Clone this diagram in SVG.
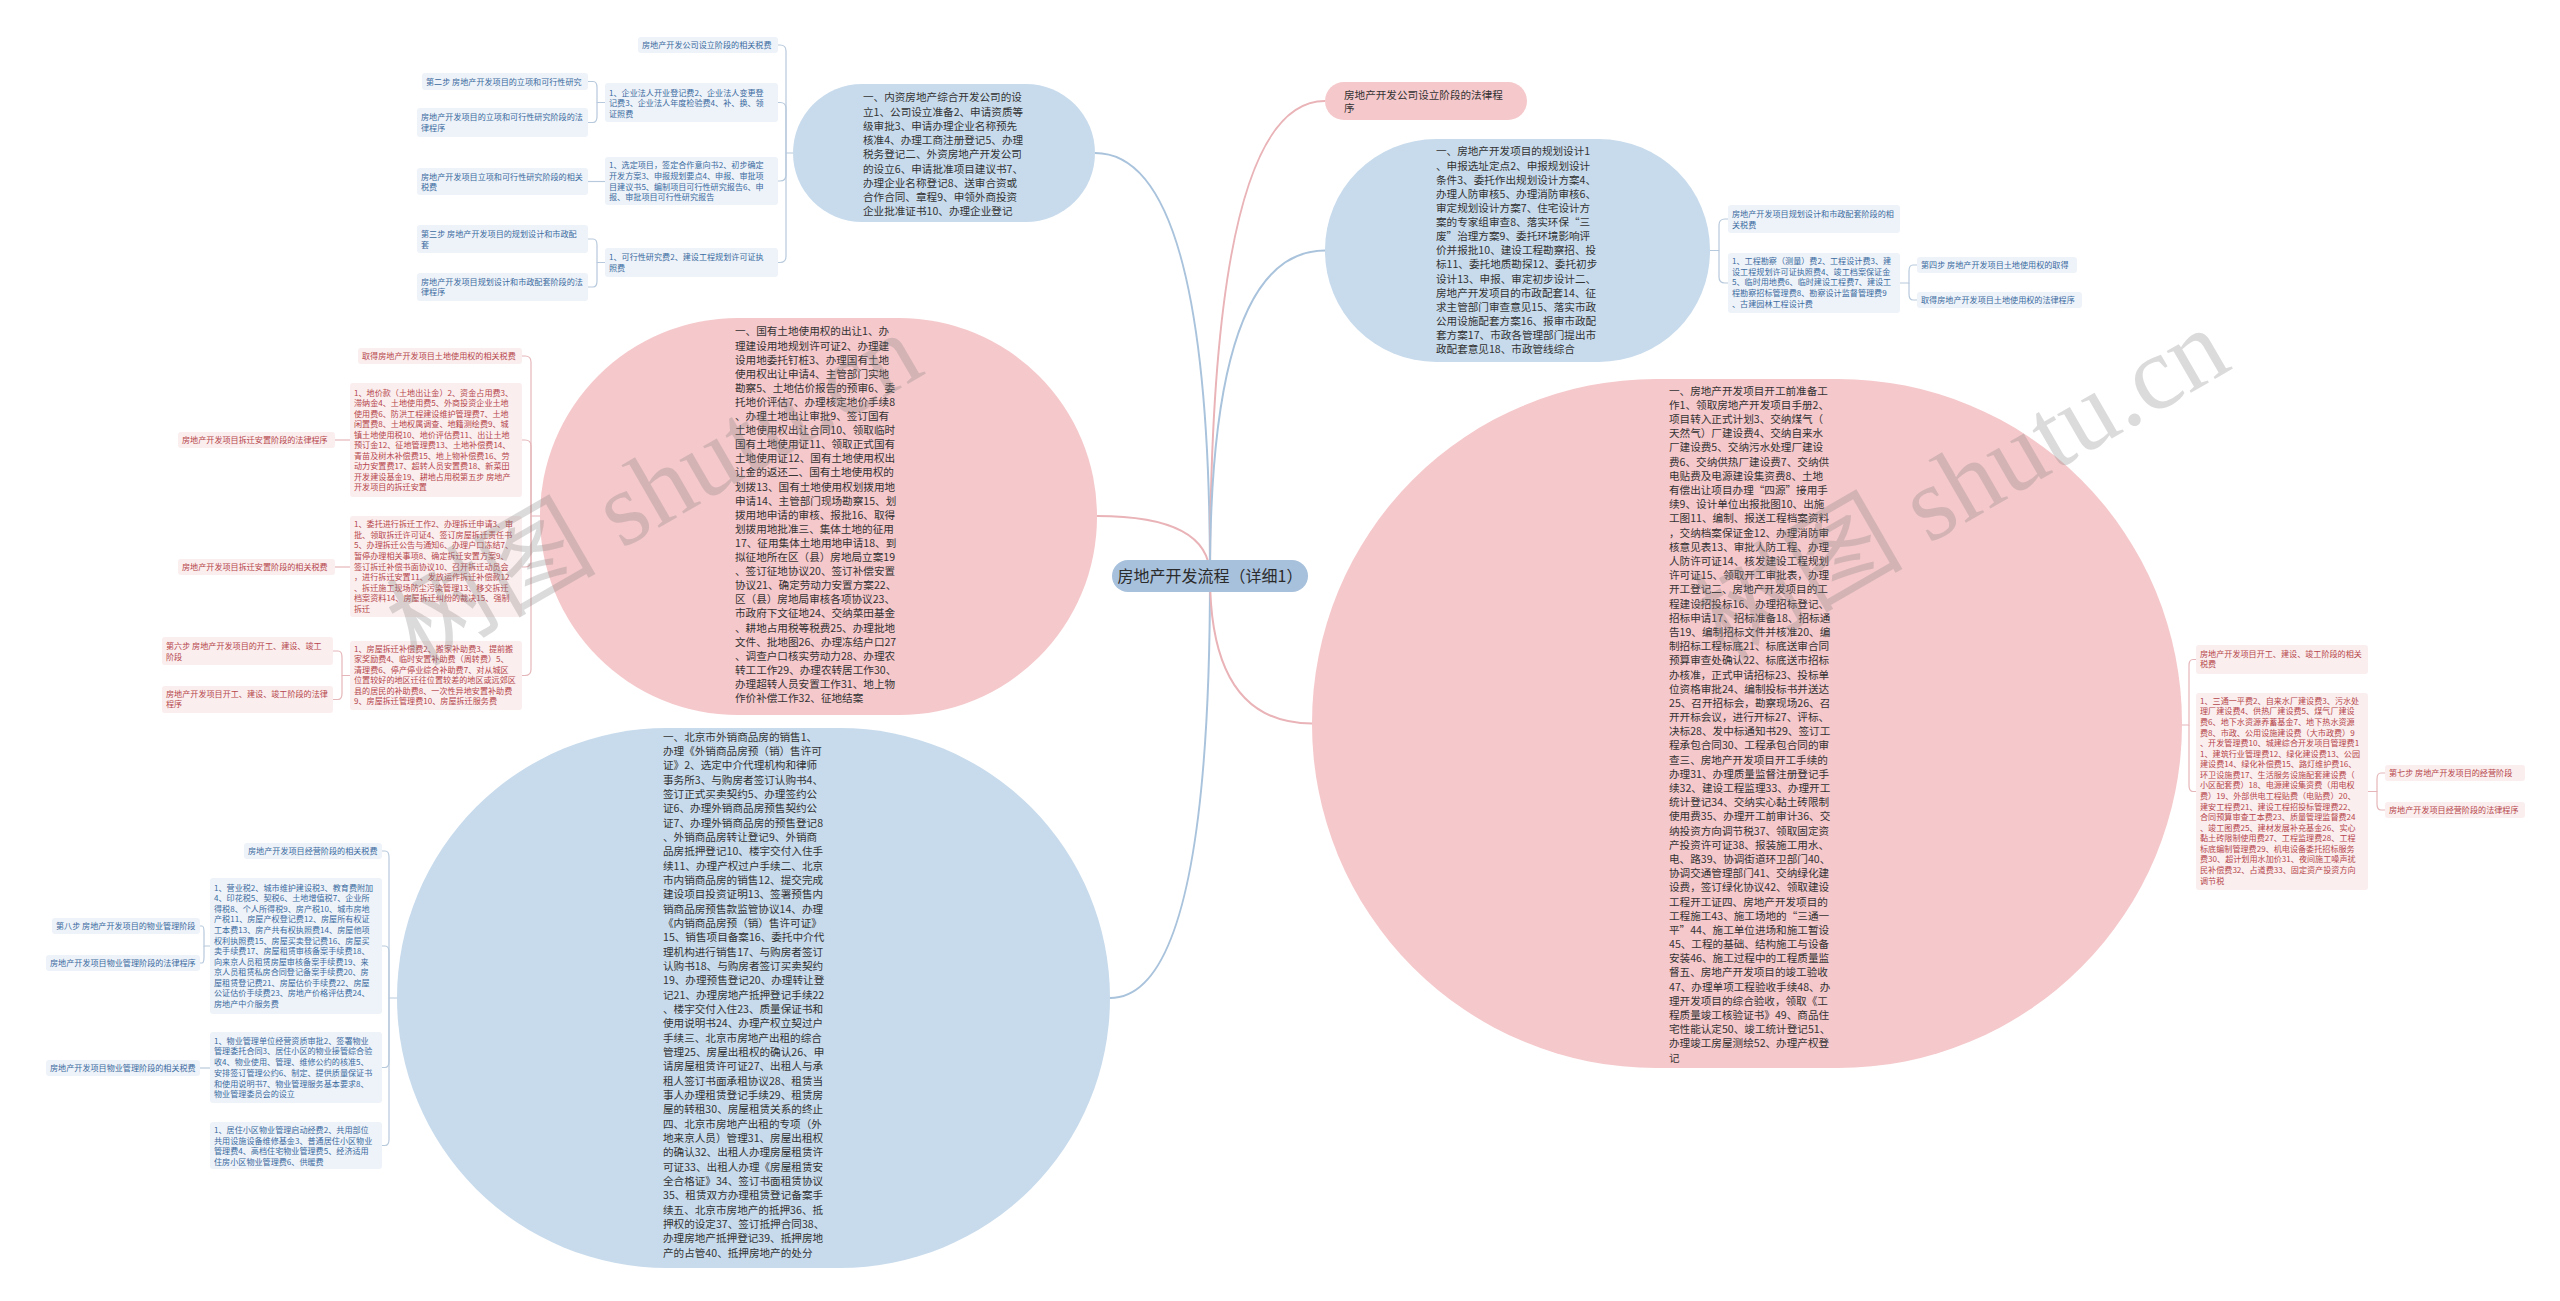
<svg xmlns="http://www.w3.org/2000/svg" width="2560" height="1301" viewBox="0 0 2560 1301">
<defs>
<style>
text{font-family:"Noto Sans CJK SC","Noto Sans",sans-serif;}
.big{font-size:10.6px;fill:#333333;}
.root{font-size:16px;fill:#2b2b2b;}
.sb{font-size:8.1px;fill:#3a6aa0;}
.sp{font-size:8.1px;fill:#b5464c;}
.eb{fill:#c8dbec;}
.ep{fill:#f5c8cb;}
.bb{fill:#eef3f9;}
.bp{fill:#fbeeee;}
.cb{fill:none;stroke:#a9c3dc;stroke-width:2;}
.cp{fill:none;stroke:#e9b3b7;stroke-width:2;}
.lb{fill:none;stroke:#b7c9dc;stroke-width:1.2;}
.lp{fill:none;stroke:#e5b6b9;stroke-width:1.2;}
.wm{font-family:"Liberation Serif","Noto Sans CJK SC",serif;font-size:105px;fill:#7f7f7f;fill-opacity:0.28;}
</style>
</defs>
<rect x="0" y="0" width="2560" height="1301" fill="#ffffff"/>

<g id="connectors">
<path class="cb" d="M1210,576 Q1210,153 1095,153"/>
<path class="cp" d="M1210,576 Q1210,516 1097,516"/>
<path class="cb" d="M1210,576 Q1210,998 1110,998"/>
<path class="cp" d="M1210,576 Q1210,101 1325,101"/>
<path class="cb" d="M1210,576 Q1210,250.5 1325,250.5"/>
<path class="cp" d="M1210,576 Q1210,723.5 1312,723.5"/>

<path class="lb" d="M793,153 H786 V51 Q786,45 780,45 H778"/>
<path class="lb" d="M786,153 V108.5 Q786,102.5 780,102.5 H778"/>
<path class="lb" d="M786,153 V175 Q786,181 780,181 H778"/>
<path class="lb" d="M786,153 V256.5 Q786,262.5 780,262.5 H778"/>
<path class="lb" d="M605,102.5 H597 V87.5 Q597,81.5 593,81.5 H588"/>
<path class="lb" d="M597,102.5 V116.5 Q597,122.5 593,122.5 H588"/>
<path class="lb" d="M605,181.5 H588"/>
<path class="lb" d="M605,262.5 H597 V245 Q597,239 593,239 H588"/>
<path class="lb" d="M597,262.5 V281 Q597,287 593,287 H588"/>

<path class="lp" d="M540,516 H531 V362 Q531,356 525,356 H522"/>
<path class="lp" d="M531,516 V446 Q531,440 525,440 H522"/>
<path class="lp" d="M531,516 V561 Q531,567 525,567 H522"/>
<path class="lp" d="M531,516 V669.5 Q531,675.5 525,675.5 H522"/>
<path class="lp" d="M350,440 H335"/>
<path class="lp" d="M350,567 H335"/>
<path class="lp" d="M350,675.5 H342 V657 Q342,651 338,651 H333"/>
<path class="lp" d="M342,675.5 V693.5 Q342,699.5 338,699.5 H333"/>

<path class="lb" d="M397,998 H389 V857 Q389,851 385,851 H382"/>
<path class="lb" d="M389,998 V952 Q389,946 385,946 H382"/>
<path class="lb" d="M389,998 V1061.5 Q389,1067.5 385,1067.5 H382"/>
<path class="lb" d="M389,998 V1139.5 Q389,1145.5 385,1145.5 H382"/>
<path class="lb" d="M210,946 H204 V932 Q204,926 202,926 H200"/>
<path class="lb" d="M204,946 V957 Q204,963 202,963 H200"/>
<path class="lb" d="M210,1068 H200"/>

<path class="lb" d="M1710,250.5 H1719 V225 Q1719,219 1725,219 H1728"/>
<path class="lb" d="M1719,250.5 V277 Q1719,283 1725,283 H1728"/>
<path class="lb" d="M1900,283 H1909 V271 Q1909,265 1913,265 H1917"/>
<path class="lb" d="M1909,283 V294 Q1909,300 1913,300 H1917"/>

<path class="lp" d="M2182,725 H2189 V665.5 Q2189,659.5 2193,659.5 H2196"/>
<path class="lp" d="M2189,725 V785.5 Q2189,791.5 2193,791.5 H2196"/>
<path class="lp" d="M2368,791.5 H2377 V779 Q2377,773 2381,773 H2385"/>
<path class="lp" d="M2377,791.5 V804 Q2377,810 2381,810 H2385"/>
</g>

<g id="node-root">
<rect x="1112" y="560" width="196" height="32" rx="16" fill="#a7c1dc"/>
<text class="root" x="1210" y="582" text-anchor="middle">房地产开发流程（详细1）</text>
</g>

<g id="node-company-setup">
<rect class="eb" x="793" y="84" width="302" height="138" rx="69"/>
<text class="big" x="863" y="101.4"><tspan x="863" dy="0">一、内资房地产综合开发公司的设</tspan><tspan x="863" dy="14.25">立1、公司设立准备2、申请资质等</tspan><tspan x="863" dy="14.25">级审批3、申请办理企业名称预先</tspan><tspan x="863" dy="14.25">核准4、办理工商注册登记5、办理</tspan><tspan x="863" dy="14.25">税务登记二、外资房地产开发公司</tspan><tspan x="863" dy="14.25">的设立6、申请批准项目建议书7、</tspan><tspan x="863" dy="14.25">办理企业名称登记8、送审合资或</tspan><tspan x="863" dy="14.25">合作合同、章程9、申领外商投资</tspan><tspan x="863" dy="14.25">企业批准证书10、办理企业登记</tspan></text>
</g>

<g id="node-tl-1"><rect class="bb" x="638" y="37" width="140" height="16" rx="3"/><text class="sb" x="642" y="48.3">房地产开发公司设立阶段的相关税费</text></g>
<g id="node-tl-2"><rect class="bb" x="605" y="83" width="173" height="39" rx="3"/><text class="sb" x="609" y="95.6"><tspan x="609" dy="0">1、企业法人开业登记费2、企业法人变更登</tspan><tspan x="609" dy="10.8">记费3、企业法人年度检验费4、补、换、领</tspan><tspan x="609" dy="10.8">证照费</tspan></text></g>
<g id="node-tl-3"><rect class="bb" x="422" y="73" width="166" height="17" rx="3"/><text class="sb" x="426" y="85">第二步 房地产开发项目的立项和可行性研究</text></g>
<g id="node-tl-4"><rect class="bb" x="417" y="108" width="171" height="29" rx="3"/><text class="sb" x="421" y="120"><tspan x="421" dy="0">房地产开发项目的立项和可行性研究阶段的法</tspan><tspan x="421" dy="11">律程序</tspan></text></g>
<g id="node-tl-5"><rect class="bb" x="605" y="157" width="173" height="48" rx="3"/><text class="sb" x="609" y="167.9"><tspan x="609" dy="0">1、选定项目，签定合作意向书2、初步确定</tspan><tspan x="609" dy="10.8">开发方案3、申报规划要点4、申报、审批项</tspan><tspan x="609" dy="10.8">目建议书5、编制项目可行性研究报告6、申</tspan><tspan x="609" dy="10.8">报、审批项目可行性研究报告</tspan></text></g>
<g id="node-tl-6"><rect class="bb" x="417" y="168" width="171" height="27" rx="3"/><text class="sb" x="421" y="179.6"><tspan x="421" dy="0">房地产开发项目立项和可行性研究阶段的相关</tspan><tspan x="421" dy="10.7">税费</tspan></text></g>
<g id="node-tl-7"><rect class="bb" x="605" y="248" width="173" height="29" rx="3"/><text class="sb" x="609" y="260.2"><tspan x="609" dy="0">1、可行性研究费2、建设工程规划许可证执</tspan><tspan x="609" dy="11">照费</tspan></text></g>
<g id="node-tl-8"><rect class="bb" x="417" y="225" width="171" height="28" rx="3"/><text class="sb" x="421" y="236.9"><tspan x="421" dy="0">第三步 房地产开发项目的规划设计和市政配</tspan><tspan x="421" dy="11">套</tspan></text></g>
<g id="node-tl-9"><rect class="bb" x="417" y="273" width="171" height="28" rx="3"/><text class="sb" x="421" y="284.6"><tspan x="421" dy="0">房地产开发项目规划设计和市政配套阶段的法</tspan><tspan x="421" dy="10.7">律程序</tspan></text></g>

<g id="node-land">
<rect class="ep" x="540" y="318" width="557" height="397" rx="198"/>
<text class="big" x="735" y="335.4"><tspan x="735" dy="0">一、国有土地使用权的出让1、办</tspan><tspan x="735" dy="14.1">理建设用地规划许可证2、办理建</tspan><tspan x="735" dy="14.1">设用地委托钉桩3、办理国有土地</tspan><tspan x="735" dy="14.1">使用权出让申请4、主管部门实地</tspan><tspan x="735" dy="14.1">勘察5、土地估价报告的预审6、委</tspan><tspan x="735" dy="14.1">托地价评估7、办理核定地价手续8</tspan><tspan x="735" dy="14.1">、办理土地出让审批9、签订国有</tspan><tspan x="735" dy="14.1">土地使用权出让合同10、领取临时</tspan><tspan x="735" dy="14.1">国有土地使用证11、领取正式国有</tspan><tspan x="735" dy="14.1">土地使用证12、国有土地使用权出</tspan><tspan x="735" dy="14.1">让金的返还二、国有土地使用权的</tspan><tspan x="735" dy="14.1">划拨13、国有土地使用权划拨用地</tspan><tspan x="735" dy="14.1">申请14、主管部门现场勘察15、划</tspan><tspan x="735" dy="14.1">拨用地申请的审核、报批16、取得</tspan><tspan x="735" dy="14.1">划拨用地批准三、集体土地的征用</tspan><tspan x="735" dy="14.1">17、征用集体土地用地申请18、到</tspan><tspan x="735" dy="14.1">拟征地所在区（县）房地局立案19</tspan><tspan x="735" dy="14.1">、签订征地协议20、签订补偿安置</tspan><tspan x="735" dy="14.1">协议21、确定劳动力安置方案22、</tspan><tspan x="735" dy="14.1">区（县）房地局审核各项协议23、</tspan><tspan x="735" dy="14.1">市政府下文征地24、交纳菜田基金</tspan><tspan x="735" dy="14.1">、耕地占用税等税费25、办理批地</tspan><tspan x="735" dy="14.1">文件、批地图26、办理冻结户口27</tspan><tspan x="735" dy="14.1">、调查户口核实劳动力28、办理农</tspan><tspan x="735" dy="14.1">转工工作29、办理农转居工作30、</tspan><tspan x="735" dy="14.1">办理超转人员安置工作31、地上物</tspan><tspan x="735" dy="14.1">作价补偿工作32、征地结案</tspan></text>
</g>

<g id="node-ml-1"><rect class="bp" x="358" y="348" width="164" height="16" rx="3"/><text class="sp" x="362" y="358.9">取得房地产开发项目土地使用权的相关税费</text></g>
<g id="node-ml-2"><rect class="bp" x="350" y="383" width="172" height="114" rx="3"/><text class="sp" x="354" y="395.6"><tspan x="354" dy="0">1、地价款（土地出让金）2、资金占用费3、</tspan><tspan x="354" dy="10.5">滞纳金4、土地使用费5、外商投资企业土地</tspan><tspan x="354" dy="10.5">使用费6、防洪工程建设维护管理费7、土地</tspan><tspan x="354" dy="10.5">闲置费8、土地权属调查、地籍测绘费9、城</tspan><tspan x="354" dy="10.5">镇土地使用税10、地价评估费11、出让土地</tspan><tspan x="354" dy="10.5">预订金12、征地管理费13、土地补偿费14、</tspan><tspan x="354" dy="10.5">青苗及树木补偿费15、地上物补偿费16、劳</tspan><tspan x="354" dy="10.5">动力安置费17、超转人员安置费18、新菜田</tspan><tspan x="354" dy="10.5">开发建设基金19、耕地占用税第五步 房地产</tspan><tspan x="354" dy="10.5">开发项目的拆迁安置</tspan></text></g>
<g id="node-ml-3"><rect class="bp" x="178" y="432" width="157" height="16" rx="3"/><text class="sp" x="182" y="443">房地产开发项目拆迁安置阶段的法律程序</text></g>
<g id="node-ml-4"><rect class="bp" x="350" y="516" width="172" height="101" rx="3"/><text class="sp" x="354" y="527.2"><tspan x="354" dy="0">1、委托进行拆迁工作2、办理拆迁申请3、审</tspan><tspan x="354" dy="10.6">批、领取拆迁许可证4、签订房屋拆迁责任书</tspan><tspan x="354" dy="10.6">5、办理拆迁公告与通知6、办理户口冻结7、</tspan><tspan x="354" dy="10.6">暂停办理相关事项8、确定拆迁安置方案9、</tspan><tspan x="354" dy="10.6">签订拆迁补偿书面协议10、召开拆迁动员会</tspan><tspan x="354" dy="10.6">，进行拆迁安置11、发放运作拆迁补偿款12</tspan><tspan x="354" dy="10.6">、拆迁施工现场防尘污染管理13、移交拆迁</tspan><tspan x="354" dy="10.6">档案资料14、房屋拆迁纠纷的裁决15、强制</tspan><tspan x="354" dy="10.6">拆迁</tspan></text></g>
<g id="node-ml-5"><rect class="bp" x="178" y="559" width="157" height="16" rx="3"/><text class="sp" x="182" y="570.2">房地产开发项目拆迁安置阶段的相关税费</text></g>
<g id="node-ml-6"><rect class="bp" x="350" y="641" width="172" height="69" rx="3"/><text class="sp" x="354" y="651.9"><tspan x="354" dy="0">1、房屋拆迁补偿费2、搬家补助费3、提前搬</tspan><tspan x="354" dy="10.4">家奖励费4、临时安置补助费（周转费）5、</tspan><tspan x="354" dy="10.4">清理费6、停产停业综合补助费7、对从城区</tspan><tspan x="354" dy="10.4">位置较好的地区迁往位置较差的地区或远郊区</tspan><tspan x="354" dy="10.4">县的居民的补助费8、一次性异地安置补助费</tspan><tspan x="354" dy="10.4">9、房屋拆迁管理费10、房屋拆迁服务费</tspan></text></g>
<g id="node-ml-7"><rect class="bp" x="162" y="637" width="171" height="28" rx="3"/><text class="sp" x="166" y="648.9"><tspan x="166" dy="0">第六步 房地产开发项目的开工、建设、竣工</tspan><tspan x="166" dy="10.7">阶段</tspan></text></g>
<g id="node-ml-8"><rect class="bp" x="162" y="686" width="171" height="27" rx="3"/><text class="sp" x="166" y="696.9"><tspan x="166" dy="0">房地产开发项目开工、建设、竣工阶段的法律</tspan><tspan x="166" dy="10">程序</tspan></text></g>

<g id="node-sales">
<rect class="eb" x="397" y="728" width="713" height="540" rx="270"/>
<text class="big" x="663" y="740.7"><tspan x="663" dy="0">一、北京市外销商品房的销售1、</tspan><tspan x="663" dy="14.33">办理《外销商品房预（销）售许可</tspan><tspan x="663" dy="14.33">证》2、选定中介代理机构和律师</tspan><tspan x="663" dy="14.33">事务所3、与购房者签订认购书4、</tspan><tspan x="663" dy="14.33">签订正式买卖契约5、办理签约公</tspan><tspan x="663" dy="14.33">证6、办理外销商品房预售契约公</tspan><tspan x="663" dy="14.33">证7、办理外销商品房的预售登记8</tspan><tspan x="663" dy="14.33">、外销商品房转让登记9、外销商</tspan><tspan x="663" dy="14.33">品房抵押登记10、楼宇交付入住手</tspan><tspan x="663" dy="14.33">续11、办理产权过户手续二、北京</tspan><tspan x="663" dy="14.33">市内销商品房的销售12、提交完成</tspan><tspan x="663" dy="14.33">建设项目投资证明13、签署预售内</tspan><tspan x="663" dy="14.33">销商品房预售款监管协议14、办理</tspan><tspan x="663" dy="14.33">《内销商品房预（销）售许可证》</tspan><tspan x="663" dy="14.33">15、销售项目备案16、委托中介代</tspan><tspan x="663" dy="14.33">理机构进行销售17、与购房者签订</tspan><tspan x="663" dy="14.33">认购书18、与购房者签订买卖契约</tspan><tspan x="663" dy="14.33">19、办理预售登记20、办理转让登</tspan><tspan x="663" dy="14.33">记21、办理房地产抵押登记手续22</tspan><tspan x="663" dy="14.33">、楼宇交付入住23、质量保证书和</tspan><tspan x="663" dy="14.33">使用说明书24、办理产权立契过户</tspan><tspan x="663" dy="14.33">手续三、北京市房地产出租的综合</tspan><tspan x="663" dy="14.33">管理25、房屋出租权的确认26、申</tspan><tspan x="663" dy="14.33">请房屋租赁许可证27、出租人与承</tspan><tspan x="663" dy="14.33">租人签订书面承租协议28、租赁当</tspan><tspan x="663" dy="14.33">事人办理租赁登记手续29、租赁房</tspan><tspan x="663" dy="14.33">屋的转租30、房屋租赁关系的终止</tspan><tspan x="663" dy="14.33">四、北京市房地产出租的专项（外</tspan><tspan x="663" dy="14.33">地来京人员）管理31、房屋出租权</tspan><tspan x="663" dy="14.33">的确认32、出租人办理房屋租赁许</tspan><tspan x="663" dy="14.33">可证33、出租人办理《房屋租赁安</tspan><tspan x="663" dy="14.33">全合格证》34、签订书面租赁协议</tspan><tspan x="663" dy="14.33">35、租赁双方办理租赁登记备案手</tspan><tspan x="663" dy="14.33">续五、北京市房地产的抵押36、抵</tspan><tspan x="663" dy="14.33">押权的设定37、签订抵押合同38、</tspan><tspan x="663" dy="14.33">办理房地产抵押登记39、抵押房地</tspan><tspan x="663" dy="14.33">产的占管40、抵押房地产的处分</tspan></text>
</g>

<g id="node-bl-1"><rect class="bb" x="244" y="843" width="138" height="16" rx="3"/><text class="sb" x="248" y="853.6">房地产开发项目经营阶段的相关税费</text></g>
<g id="node-bl-2"><rect class="bb" x="210" y="878" width="172" height="136" rx="3"/><text class="sb" x="214" y="890.6"><tspan x="214" dy="0">1、营业税2、城市维护建设税3、教育费附加</tspan><tspan x="214" dy="10.58">4、印花税5、契税6、土地增值税7、企业所</tspan><tspan x="214" dy="10.58">得税8、个人所得税9、房产税10、城市房地</tspan><tspan x="214" dy="10.58">产税11、房屋产权登记费12、房屋所有权证</tspan><tspan x="214" dy="10.58">工本费13、房产共有权执照费14、房屋他项</tspan><tspan x="214" dy="10.58">权利执照费15、房屋买卖登记费16、房屋买</tspan><tspan x="214" dy="10.58">卖手续费17、房屋租赁审核备案手续费18、</tspan><tspan x="214" dy="10.58">向来京人员租赁房屋审核备案手续费19、来</tspan><tspan x="214" dy="10.58">京人员租赁私房合同登记备案手续费20、房</tspan><tspan x="214" dy="10.58">屋租赁登记费21、房屋估价手续费22、房屋</tspan><tspan x="214" dy="10.58">公证估价手续费23、房地产价格评估费24、</tspan><tspan x="214" dy="10.58">房地产中介服务费</tspan></text></g>
<g id="node-bl-3"><rect class="bb" x="210" y="1032" width="172" height="71" rx="3"/><text class="sb" x="214" y="1043.6"><tspan x="214" dy="0">1、物业管理单位经营资质审批2、签署物业</tspan><tspan x="214" dy="10.73">管理委托合同3、居住小区的物业接管综合验</tspan><tspan x="214" dy="10.73">收4、物业使用、管理、维修公约的核准5、</tspan><tspan x="214" dy="10.73">安排签订管理公约6、制定、提供质量保证书</tspan><tspan x="214" dy="10.73">和使用说明书7、物业管理服务基本要求8、</tspan><tspan x="214" dy="10.73">物业管理委员会的设立</tspan></text></g>
<g id="node-bl-4"><rect class="bb" x="210" y="1122" width="172" height="47" rx="3"/><text class="sb" x="214" y="1132.9"><tspan x="214" dy="0">1、居住小区物业管理启动经费2、共用部位</tspan><tspan x="214" dy="10.7">共用设施设备维修基金3、普通居住小区物业</tspan><tspan x="214" dy="10.7">管理费4、高档住宅物业管理费5、经济适用</tspan><tspan x="214" dy="10.7">住房小区物业管理费6、供暖费</tspan></text></g>
<g id="node-bl-5"><rect class="bb" x="52" y="918" width="148" height="16" rx="3"/><text class="sb" x="56" y="928.9">第八步 房地产开发项目的物业管理阶段</text></g>
<g id="node-bl-6"><rect class="bb" x="46" y="955" width="154" height="16" rx="3"/><text class="sb" x="50" y="965.9">房地产开发项目物业管理阶段的法律程序</text></g>
<g id="node-bl-7"><rect class="bb" x="46" y="1060" width="154" height="16" rx="3"/><text class="sb" x="50" y="1070.9">房地产开发项目物业管理阶段的相关税费</text></g>

<g id="node-company-law">
<rect class="ep" x="1325" y="82" width="202" height="38" rx="19"/>
<text class="big" x="1344" y="98.7"><tspan x="1344" dy="0">房地产开发公司设立阶段的法律程</tspan><tspan x="1344" dy="13">序</tspan></text>
</g>

<g id="node-planning">
<rect class="eb" x="1325" y="139" width="385" height="223" rx="111"/>
<text class="big" x="1436" y="155.4"><tspan x="1436" dy="0">一、房地产开发项目的规划设计1</tspan><tspan x="1436" dy="14.13">、申报选址定点2、申报规划设计</tspan><tspan x="1436" dy="14.13">条件3、委托作出规划设计方案4、</tspan><tspan x="1436" dy="14.13">办理人防审核5、办理消防审核6、</tspan><tspan x="1436" dy="14.13">审定规划设计方案7、住宅设计方</tspan><tspan x="1436" dy="14.13">案的专家组审查8、落实环保“三</tspan><tspan x="1436" dy="14.13">废”治理方案9、委托环境影响评</tspan><tspan x="1436" dy="14.13">价并报批10、建设工程勘察招、投</tspan><tspan x="1436" dy="14.13">标11、委托地质勘探12、委托初步</tspan><tspan x="1436" dy="14.13">设计13、申报、审定初步设计二、</tspan><tspan x="1436" dy="14.13">房地产开发项目的市政配套14、征</tspan><tspan x="1436" dy="14.13">求主管部门审查意见15、落实市政</tspan><tspan x="1436" dy="14.13">公用设施配套方案16、报审市政配</tspan><tspan x="1436" dy="14.13">套方案17、市政各管理部门提出市</tspan><tspan x="1436" dy="14.13">政配套意见18、市政管线综合</tspan></text>
</g>

<g id="node-tr-1"><rect class="bb" x="1728" y="205" width="172" height="28" rx="3"/><text class="sb" x="1732" y="216.9"><tspan x="1732" dy="0">房地产开发项目规划设计和市政配套阶段的相</tspan><tspan x="1732" dy="11">关税费</tspan></text></g>
<g id="node-tr-2"><rect class="bb" x="1728" y="253" width="172" height="60" rx="3"/><text class="sb" x="1732" y="263.9"><tspan x="1732" dy="0">1、工程勘察（测量）费2、工程设计费3、建</tspan><tspan x="1732" dy="10.7">设工程规划许可证执照费4、竣工档案保证金</tspan><tspan x="1732" dy="10.7">5、临时用地费6、临时建设工程费7、建设工</tspan><tspan x="1732" dy="10.7">程勘察招标管理费8、勘察设计监督管理费9</tspan><tspan x="1732" dy="10.7">、古建园林工程设计费</tspan></text></g>
<g id="node-tr-3"><rect class="bb" x="1917" y="257" width="160" height="16" rx="3"/><text class="sb" x="1921" y="267.9">第四步 房地产开发项目土地使用权的取得</text></g>
<g id="node-tr-4"><rect class="bb" x="1917" y="292" width="165" height="16" rx="3"/><text class="sb" x="1921" y="302.9">取得房地产开发项目土地使用权的法律程序</text></g>

<g id="node-construction">
<rect class="ep" x="1312" y="379" width="870" height="689" rx="344"/>
<text class="big" x="1669" y="394.7"><tspan x="1669" dy="0">一、房地产开发项目开工前准备工</tspan><tspan x="1669" dy="14.19">作1、领取房地产开发项目手册2、</tspan><tspan x="1669" dy="14.19">项目转入正式计划3、交纳煤气（</tspan><tspan x="1669" dy="14.19">天然气）厂建设费4、交纳自来水</tspan><tspan x="1669" dy="14.19">厂建设费5、交纳污水处理厂建设</tspan><tspan x="1669" dy="14.19">费6、交纳供热厂建设费7、交纳供</tspan><tspan x="1669" dy="14.19">电贴费及电源建设集资费8、土地</tspan><tspan x="1669" dy="14.19">有偿出让项目办理“四源”接用手</tspan><tspan x="1669" dy="14.19">续9、设计单位出报批图10、出施</tspan><tspan x="1669" dy="14.19">工图11、编制、报送工程档案资料</tspan><tspan x="1669" dy="14.19">，交纳档案保证金12、办理消防审</tspan><tspan x="1669" dy="14.19">核意见表13、审批人防工程、办理</tspan><tspan x="1669" dy="14.19">人防许可证14、核发建设工程规划</tspan><tspan x="1669" dy="14.19">许可证15、领取开工审批表，办理</tspan><tspan x="1669" dy="14.19">开工登记二、房地产开发项目的工</tspan><tspan x="1669" dy="14.19">程建设招投标16、办理招标登记、</tspan><tspan x="1669" dy="14.19">招标申请17、招标准备18、招标通</tspan><tspan x="1669" dy="14.19">告19、编制招标文件并核准20、编</tspan><tspan x="1669" dy="14.19">制招标工程标底21、标底送审合同</tspan><tspan x="1669" dy="14.19">预算审查处确认22、标底送市招标</tspan><tspan x="1669" dy="14.19">办核准，正式申请招标23、投标单</tspan><tspan x="1669" dy="14.19">位资格审批24、编制投标书并送达</tspan><tspan x="1669" dy="14.19">25、召开招标会，勘察现场26、召</tspan><tspan x="1669" dy="14.19">开开标会议，进行开标27、评标、</tspan><tspan x="1669" dy="14.19">决标28、发中标通知书29、签订工</tspan><tspan x="1669" dy="14.19">程承包合同30、工程承包合同的审</tspan><tspan x="1669" dy="14.19">查三、房地产开发项目开工手续的</tspan><tspan x="1669" dy="14.19">办理31、办理质量监督注册登记手</tspan><tspan x="1669" dy="14.19">续32、建设工程监理33、办理开工</tspan><tspan x="1669" dy="14.19">统计登记34、交纳实心黏土砖限制</tspan><tspan x="1669" dy="14.19">使用费35、办理开工前审计36、交</tspan><tspan x="1669" dy="14.19">纳投资方向调节税37、领取固定资</tspan><tspan x="1669" dy="14.19">产投资许可证38、报装施工用水、</tspan><tspan x="1669" dy="14.19">电、路39、协调街道环卫部门40、</tspan><tspan x="1669" dy="14.19">协调交通管理部门41、交纳绿化建</tspan><tspan x="1669" dy="14.19">设费，签订绿化协议42、领取建设</tspan><tspan x="1669" dy="14.19">工程开工证四、房地产开发项目的</tspan><tspan x="1669" dy="14.19">工程施工43、施工场地的“三通一</tspan><tspan x="1669" dy="14.19">平”44、施工单位进场和施工暂设</tspan><tspan x="1669" dy="14.19">45、工程的基础、结构施工与设备</tspan><tspan x="1669" dy="14.19">安装46、施工过程中的工程质量监</tspan><tspan x="1669" dy="14.19">督五、房地产开发项目的竣工验收</tspan><tspan x="1669" dy="14.19">47、办理单项工程验收手续48、办</tspan><tspan x="1669" dy="14.19">理开发项目的综合验收，领取《工</tspan><tspan x="1669" dy="14.19">程质量竣工核验证书》49、商品住</tspan><tspan x="1669" dy="14.19">宅性能认定50、竣工统计登记51、</tspan><tspan x="1669" dy="14.19">办理竣工房屋测绘52、办理产权登</tspan><tspan x="1669" dy="14.19">记</tspan></text>
</g>

<g id="node-mr-1"><rect class="bp" x="2196" y="645" width="172" height="29" rx="3"/><text class="sp" x="2200" y="656.9"><tspan x="2200" dy="0">房地产开发项目开工、建设、竣工阶段的相关</tspan><tspan x="2200" dy="10.3">税费</tspan></text></g>
<g id="node-mr-2"><rect class="bp" x="2196" y="693" width="172" height="197" rx="3"/><text class="sp" x="2200" y="703.9"><tspan x="2200" dy="0">1、三通一平费2、自来水厂建设费3、污水处</tspan><tspan x="2200" dy="10.57">理厂建设费4、供热厂建设费5、煤气厂建设</tspan><tspan x="2200" dy="10.57">费6、地下水资源养蓄基金7、地下热水资源</tspan><tspan x="2200" dy="10.57">费8、市政、公用设施建设费（大市政费）9</tspan><tspan x="2200" dy="10.57">、开发管理费10、城建综合开发项目管理费1</tspan><tspan x="2200" dy="10.57">1、建筑行业管理费12、绿化建设费13、公园</tspan><tspan x="2200" dy="10.57">建设费14、绿化补偿费15、路灯维护费16、</tspan><tspan x="2200" dy="10.57">环卫设施费17、生活服务设施配套建设费（</tspan><tspan x="2200" dy="10.57">小区配套费）18、电源建设集资费（用电权</tspan><tspan x="2200" dy="10.57">费）19、外部供电工程贴费（电贴费）20、</tspan><tspan x="2200" dy="10.57">建安工程费21、建设工程招投标管理费22、</tspan><tspan x="2200" dy="10.57">合同预算审查工本费23、质量管理监督费24</tspan><tspan x="2200" dy="10.57">、竣工图费25、建材发展补充基金26、实心</tspan><tspan x="2200" dy="10.57">黏土砖限制使用费27、工程监理费28、工程</tspan><tspan x="2200" dy="10.57">标底编制管理费29、机电设备委托招标服务</tspan><tspan x="2200" dy="10.57">费30、超计划用水加价31、夜间施工噪声扰</tspan><tspan x="2200" dy="10.57">民补偿费32、占道费33、固定资产投资方向</tspan><tspan x="2200" dy="10.57">调节税</tspan></text></g>
<g id="node-mr-3"><rect class="bp" x="2385" y="765" width="140" height="16" rx="3"/><text class="sp" x="2389" y="775.9">第七步 房地产开发项目的经营阶段</text></g>
<g id="node-mr-4"><rect class="bp" x="2385" y="802" width="140" height="16" rx="3"/><text class="sp" x="2389" y="812.9">房地产开发项目经营阶段的法律程序</text></g>

<g id="watermarks">
<text class="wm" x="0" y="0" text-anchor="middle" transform="translate(672,520) rotate(-30)">树图 shutu.cn</text>
<text class="wm" x="0" y="0" text-anchor="middle" transform="translate(1979,515) rotate(-30)">树图 shutu.cn</text>
</g>
</svg>
